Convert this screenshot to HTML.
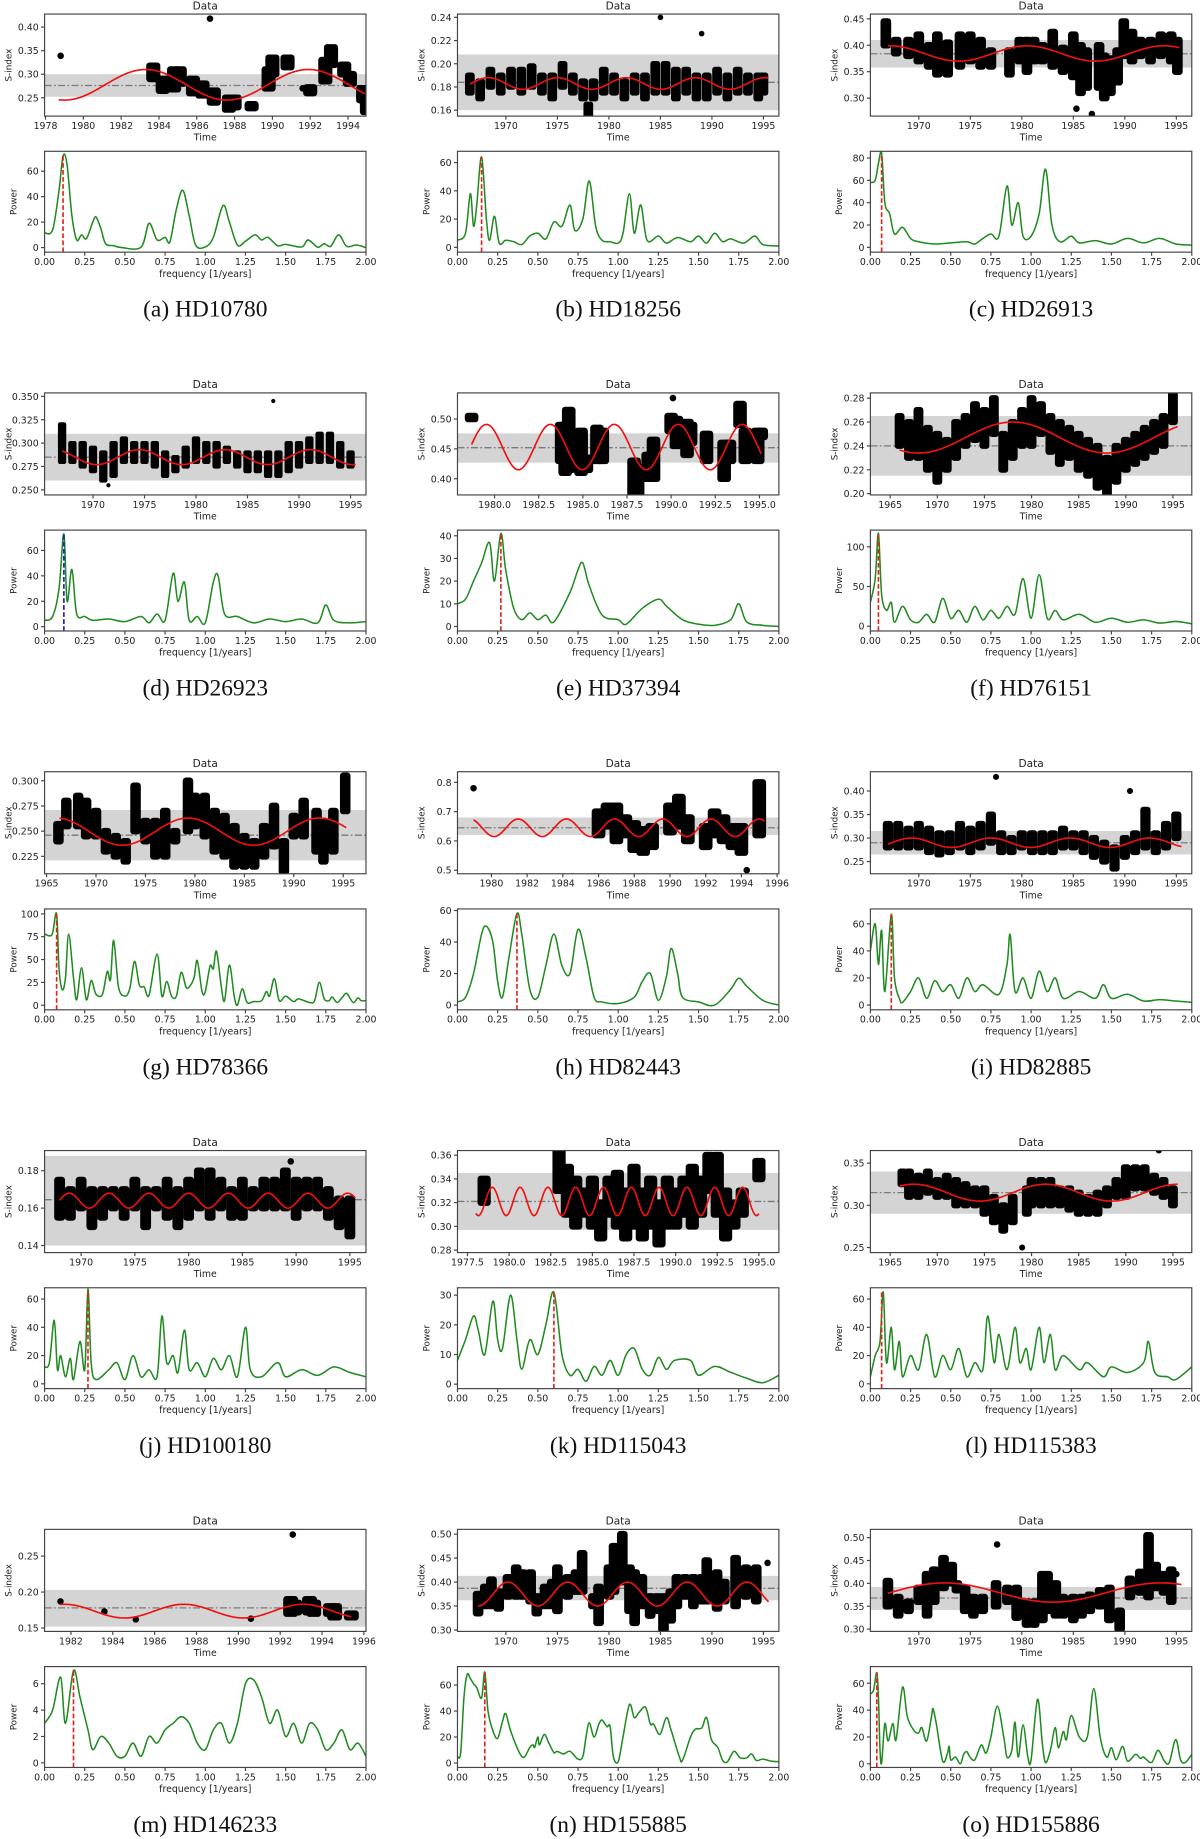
<!DOCTYPE html>
<html><head><meta charset="utf-8"><style>
html,body{margin:0;padding:0;background:#fff}
svg{display:block}
text{font-family:"DejaVu Sans","Liberation Sans",sans-serif;fill:#222}
.cap{font-family:"Liberation Serif",serif;font-size:20px;fill:#111}
</style></head><body>
<svg id="fig" width="1200" height="1839" viewBox="0 0 1023 1568" preserveAspectRatio="none" xmlns="http://www.w3.org/2000/svg"></svg>
<script>
// ---- data per panel ----
const names=["(a) HD10780","(b) HD18256","(c) HD26913","(d) HD26923","(e) HD37394","(f) HD76151","(g) HD78366","(h) HD82443","(i) HD82885","(j) HD100180","(k) HD115043","(l) HD115383","(m) HD146233","(n) HD155885","(o) HD155886"];
const xRanges=[[1977.95,1994.95],[1965.3,1996.5],[1965.3,1996.5],[1965.3,1996.5],[1977.9,1996.1],[1962.9,1997],[1964.8,1997.3],[1978.1,1996.1],[1965.3,1996.5],[1966.6,1996.5],[1976.9,1996.2],[1962.9,1997],[1980.74,1996.1],[1965.3,1996.5],[1965.3,1996.5]];
const yRanges=[[.211,.4277],[.1549,.2428],[.266,.459],[.2446,.3537],[.3729,.5437],[.1989,.2844],[.2077,.309],[.4879,.8364],[.224,.441],[.1362,.1908],[.2779,.3639],[.244,.3649],[.1453,.2872],[.297,.51],[.295,.518]];
const xTicks=[[1978,1980,1982,1984,1986,1988,1990,1992,1994],[1970,1975,1980,1985,1990,1995],[1970,1975,1980,1985,1990,1995],[1970,1975,1980,1985,1990,1995],[1980,1982.5,1985,1987.5,1990,1992.5,1995],[1965,1970,1975,1980,1985,1990,1995],[1965,1970,1975,1980,1985,1990,1995],[1980,1982,1984,1986,1988,1990,1992,1994,1996],[1970,1975,1980,1985,1990,1995],[1970,1975,1980,1985,1990,1995],[1977.5,1980,1982.5,1985,1987.5,1990,1992.5,1995],[1965,1970,1975,1980,1985,1990,1995],[1982,1984,1986,1988,1990,1992,1994,1996],[1970,1975,1980,1985,1990,1995],[1970,1975,1980,1985,1990,1995]];
const xTickDec=[0,0,0,0,1,0,0,0,0,0,1,0,0,0,0];
const yTicks=[[.25,.30,.35,.40],[.16,.18,.20,.22,.24],[.30,.35,.40,.45],[.250,.275,.300,.325,.350],[.40,.45,.50],[.20,.22,.24,.26,.28],[.225,.250,.275,.300],[.5,.6,.7,.8],[.25,.30,.35,.40],[.14,.16,.18],[.28,.30,.32,.34,.36],[.25,.30,.35],[.15,.20,.25],[.30,.35,.40,.45,.50],[.30,.35,.40,.45,.50]];
const yTickDec=[2,2,2,3,2,2,3,1,2,2,2,2,2,2,2];
const means=[.276,.184,.384,.285,.452,.24,.246,.645,.29,.1645,.321,.315,.178,.387,.368];
const bands=[[.252,.300],[.16,.208],[.358,.41],[.26,.31],[.427,.476],[.215,.265],[.221,.271],[.62,.68],[.265,.315],[.14,.188],[.297,.345],[.29,.34],[.152,.203],[.362,.413],[.342,.392]];
// sine fit params: mean, amplitude, period, time of max, start, end
const fits=[[.2775,.0325,8.6,1983.3,1978.7,1994.9],[.183,.005,6.7,1975,1966.5,1995.5],[.3845,.0145,13.3,1980.5,1967,1995.3],[.285,.008,8.3,1974.5,1967,1995.5],[.453,.038,3.62,1990.4,1978.7,1995.1],[.247,.013,20,1978,1966,1995.5],[.2495,.0135,13.3,1979.3,1966.3,1995.3],[.645,.03,2.7,1992.3,1979,1995.3],[.29,.01,7.7,1977,1967,1995.5],[.164,.004,3.7,1980,1968,1995.5],[.321,.012,1.67,1984,1978,1995],[.315,.01,14,1981.5,1966,1995.5],[.1735,.0095,5.7,1987.4,1981.5,1995.4],[.375,.025,5.8,1970.2,1967.3,1995.5],[.38,.021,21,1972.5,1967,1995.5]];
const dotR=[2.8,2.4,2.8,1.8,2.8,2.6,2.8,2.8,2.6,2.8,2.8,2.6,2.8,2.8,2.8];
// clusters: [time, low, high]
const clusters=[
[[1978.8,.339,.339],[1986.7,.418,.418],[1983.7,.29,.318],[1984.2,.265,.29],[1984.8,.268,.31],[1985.1,.28,.31],[1985.8,.26,.29],[1986.3,.255,.28],[1986.9,.24,.265],[1987.7,.225,.25],[1988,.23,.25],[1988.9,.228,.236],[1989.8,.27,.31],[1990,.3,.335],[1990.8,.315,.335],[1991.6,.27,.27],[1992,.26,.272],[1992.8,.285,.33],[1993.1,.32,.357],[1993.8,.3,.32],[1994.1,.28,.3],[1994.8,.245,.27],[1995,.22,.25]],
[[1966.5,.175,.19],[1967.5,.17,.185],[1968.5,.18,.195],[1969.5,.175,.19],[1970.5,.18,.195],[1971.5,.175,.195],[1972.5,.18,.198],[1973.5,.175,.19],[1974.5,.17,.19],[1975.5,.18,.2],[1976.5,.175,.19],[1977.5,.17,.185],[1978,.155,.165],[1978.5,.17,.185],[1979.5,.175,.195],[1980.5,.175,.19],[1981.5,.17,.185],[1982.5,.175,.19],[1983.5,.17,.19],[1984.5,.175,.2],[1985,.24,.24],[1985.5,.175,.2],[1986.5,.17,.195],[1987.5,.175,.195],[1988.5,.17,.19],[1989,.226,.226],[1989.5,.17,.19],[1990.5,.175,.195],[1991.5,.17,.19],[1992.5,.175,.195],[1993.5,.175,.19],[1994.5,.17,.19],[1995,.175,.19]],
[[1966.8,.40,.445],[1967.8,.385,.41],[1969,.38,.41],[1970,.37,.42],[1971,.36,.40],[1971.8,.345,.42],[1972.8,.345,.405],[1974,.36,.42],[1975,.37,.42],[1976,.36,.41],[1977,.36,.39],[1978.8,.345,.39],[1979.8,.37,.41],[1980.5,.35,.41],[1981.2,.37,.41],[1982,.37,.40],[1983,.36,.425],[1984,.35,.395],[1985,.34,.42],[1985.3,.28,.28],[1985.7,.31,.40],[1986.3,.32,.39],[1986.8,.27,.27],[1987.5,.32,.40],[1988,.30,.38],[1988.6,.31,.375],[1989.3,.33,.39],[1989.9,.38,.445],[1990.7,.37,.425],[1991.5,.38,.41],[1992.5,.37,.41],[1993.5,.38,.42],[1994.5,.37,.42],[1995.1,.35,.41]],
[[1967,.28,.32],[1968,.28,.30],[1969,.275,.30],[1970,.27,.295],[1971,.26,.29],[1971.5,.255,.255],[1972,.265,.30],[1973,.28,.305],[1974,.28,.30],[1975,.28,.30],[1976,.275,.30],[1977,.265,.29],[1978,.27,.285],[1979,.275,.295],[1980,.28,.305],[1981,.28,.30],[1982,.275,.30],[1983,.28,.295],[1984,.275,.29],[1985,.27,.29],[1986,.27,.29],[1987,.265,.29],[1987.5,.345,.345],[1988,.265,.29],[1989,.27,.30],[1990,.275,.30],[1991,.28,.305],[1992,.28,.31],[1993,.28,.31],[1994,.275,.30],[1995,.275,.29]],
[[1978.7,.50,.505],[1983.8,.43,.49],[1984,.41,.49],[1984.2,.415,.515],[1984.9,.41,.48],[1985.2,.415,.435],[1985.8,.43,.485],[1986.1,.43,.48],[1987.9,.37,.43],[1988.1,.375,.42],[1988.7,.40,.44],[1989,.40,.465],[1990,.48,.505],[1990.1,.535,.535],[1990.3,.455,.50],[1990.9,.44,.495],[1991.1,.46,.49],[1992,.43,.475],[1993,.40,.46],[1993.3,.43,.46],[1993.9,.49,.525],[1994.2,.43,.48],[1994.9,.43,.48],[1995.1,.47,.48]],
[[1966,.24,.265],[1967,.23,.26],[1968,.23,.27],[1969,.22,.255],[1970,.21,.25],[1971,.22,.245],[1972,.23,.26],[1973,.24,.265],[1974,.245,.275],[1975,.24,.27],[1976,.25,.28],[1977,.22,.25],[1978,.23,.26],[1979,.24,.27],[1980,.24,.28],[1981,.25,.275],[1982,.235,.265],[1983,.225,.26],[1984,.23,.255],[1985,.22,.25],[1986,.215,.245],[1987,.205,.24],[1988,.20,.23],[1989,.21,.24],[1990,.22,.245],[1991,.225,.25],[1992,.23,.255],[1993,.235,.26],[1994,.24,.265],[1995,.26,.285]],
[[1966.2,.24,.257],[1967,.255,.28],[1968.2,.255,.285],[1969,.245,.28],[1970,.245,.27],[1971,.23,.25],[1972,.225,.245],[1973,.22,.24],[1974,.25,.295],[1975,.24,.26],[1976,.225,.26],[1977,.225,.27],[1978,.24,.25],[1979.3,.25,.30],[1980,.255,.285],[1981,.245,.285],[1982,.23,.27],[1983,.225,.265],[1984,.215,.255],[1985,.215,.245],[1986,.215,.24],[1987,.225,.255],[1988,.235,.275],[1989,.21,.24],[1990,.245,.265],[1991,.245,.28],[1992.3,.23,.27],[1993,.22,.26],[1994,.23,.27],[1995.2,.27,.305]],
[[1979,.78,.78],[1986,.62,.70],[1986.5,.65,.72],[1987,.60,.72],[1987.5,.62,.68],[1988,.57,.66],[1988.5,.56,.64],[1989,.58,.65],[1990,.63,.72],[1990.5,.65,.75],[1991,.60,.68],[1992,.58,.65],[1992.5,.62,.70],[1993,.60,.68],[1993.5,.58,.65],[1994,.56,.65],[1994.3,.50,.50],[1995,.62,.80]],
[[1967,.28,.33],[1968,.28,.33],[1969,.28,.32],[1970,.28,.33],[1971,.27,.32],[1972,.265,.31],[1973,.27,.31],[1974,.28,.33],[1975,.27,.32],[1976,.28,.33],[1977,.29,.35],[1977.5,.43,.43],[1978,.27,.31],[1979,.27,.30],[1980,.28,.31],[1981,.27,.31],[1982,.27,.31],[1983,.27,.31],[1984,.28,.32],[1985,.28,.31],[1986,.27,.31],[1987,.26,.30],[1988,.25,.29],[1989,.235,.28],[1990,.26,.30],[1990.5,.40,.40],[1991,.27,.31],[1992,.28,.36],[1993,.27,.31],[1994,.28,.33],[1995,.30,.35]],
[[1968,.155,.175],[1969,.155,.17],[1970,.16,.175],[1971,.15,.17],[1972,.155,.17],[1973,.16,.17],[1974,.155,.17],[1975,.16,.175],[1976,.15,.17],[1977,.16,.17],[1978,.155,.175],[1979,.15,.17],[1980,.155,.175],[1981,.16,.18],[1982,.155,.18],[1983,.16,.175],[1984,.155,.17],[1985,.155,.175],[1986,.16,.17],[1987,.16,.175],[1988,.16,.175],[1989,.16,.18],[1989.5,.185,.185],[1990,.155,.175],[1991,.16,.175],[1992,.16,.175],[1993,.155,.17],[1994,.15,.165],[1995,.145,.165]],
[[1978.5,.32,.34],[1983,.33,.37],[1983.5,.31,.35],[1984,.30,.34],[1984.5,.31,.33],[1985,.30,.34],[1985.5,.29,.32],[1986,.31,.34],[1986.5,.30,.345],[1987,.29,.33],[1987.5,.30,.35],[1988,.29,.33],[1988.5,.30,.34],[1989,.285,.32],[1989.5,.30,.34],[1990,.30,.33],[1990.5,.31,.34],[1991,.30,.35],[1991.5,.31,.34],[1992,.33,.36],[1992.5,.31,.36],[1993,.29,.33],[1993.5,.30,.32],[1994,.31,.33],[1995,.34,.355]],
[[1966,.375,.375],[1966.3,.325,.34],[1967,.31,.34],[1968,.31,.335],[1969,.315,.34],[1970,.31,.33],[1971,.31,.335],[1972,.30,.33],[1973,.30,.325],[1974,.30,.32],[1975,.29,.32],[1976,.28,.31],[1977,.27,.30],[1978,.28,.31],[1979,.25,.25],[1979.5,.29,.32],[1980,.30,.33],[1981,.30,.33],[1982,.30,.33],[1983,.30,.32],[1984,.295,.32],[1985,.29,.315],[1986,.29,.31],[1987,.29,.315],[1988,.30,.32],[1989,.31,.33],[1990,.31,.345],[1991,.32,.345],[1992,.32,.345],[1993,.315,.335],[1993.5,.365,.365],[1994,.31,.33],[1995,.30,.32]],
[[1981.5,.187,.187],[1983.6,.173,.173],[1985.1,.162,.162],[1990.6,.163,.163],[1992.6,.28,.28],[1992.5,.17,.19],[1992.7,.172,.185],[1993.4,.172,.19],[1993.6,.17,.185],[1994.4,.17,.18],[1994.6,.165,.18],[1995.4,.165,.17]],
[[1967.3,.335,.375],[1968,.35,.39],[1968.6,.35,.405],[1969.3,.345,.38],[1970.2,.37,.41],[1971,.37,.43],[1971.6,.37,.42],[1972.4,.36,.42],[1973,.335,.37],[1973.8,.35,.39],[1974.5,.35,.40],[1975,.34,.43],[1976,.37,.41],[1976.8,.38,.42],[1977.4,.38,.46],[1978.5,.35,.37],[1979,.315,.39],[1980,.37,.43],[1980.5,.38,.475],[1981.3,.40,.50],[1982,.34,.43],[1982.5,.315,.42],[1983.2,.35,.41],[1984,.33,.37],[1984.7,.34,.37],[1985.3,.30,.37],[1986,.32,.38],[1986.6,.35,.41],[1987.4,.37,.41],[1988.2,.35,.41],[1989,.36,.41],[1989.5,.36,.445],[1990.5,.345,.42],[1991.2,.36,.40],[1992.3,.35,.45],[1993.3,.37,.43],[1994.3,.36,.43],[1995.4,.44,.44]],
[[1967,.35,.405],[1968,.33,.37],[1969,.34,.36],[1970,.36,.39],[1970.8,.33,.42],[1971.5,.36,.43],[1972.4,.39,.455],[1973.2,.40,.44],[1973.7,.385,.40],[1974.5,.34,.39],[1975.3,.33,.37],[1976.2,.34,.37],[1977.5,.35,.40],[1977.6,.485,.485],[1978.6,.36,.39],[1979.5,.325,.39],[1980.5,.31,.36],[1981.2,.31,.36],[1982,.32,.42],[1982.5,.34,.42],[1983.3,.33,.40],[1984,.33,.37],[1985,.32,.37],[1985.8,.33,.37],[1986.6,.34,.375],[1987.6,.35,.385],[1988.5,.32,.39],[1989.5,.30,.34],[1990.5,.37,.41],[1991.5,.38,.425],[1992.3,.37,.505],[1993,.39,.44],[1993.8,.38,.42],[1994.5,.36,.43],[1995,.42,.42]]
];
// periodogram
const pYRanges=[[-3.6,75.6],[-3.4,68],[-4.3,86],[-3.4,76],[-2,42.5],[-6,121],[-5,105.4],[-3,61],[-3.5,71],[-3.4,68],[-1.5,32.5],[-3.4,68],[-.35,7.3],[-3.4,74.2],[-2.7,72.4]];
const pYTicks=[[0,20,40,60],[0,20,40,60],[0,20,40,60,80],[0,20,40,60],[0,10,20,30,40],[0,50,100],[0,25,50,75,100],[0,20,40,60],[0,20,40,60],[0,20,40,60],[0,10,20,30],[0,20,40,60],[0,2,4,6],[0,20,40,60],[0,20,40,60]];
const peakFreq=[.115,.15,.07,.12,.27,.05,.075,.37,.13,.27,.6,.07,.18,.17,.04];
const peakColor=["#e8201a","#e8201a","#e8201a","#1a1acc","#e8201a","#e8201a","#e8201a","#e8201a","#e8201a","#e8201a","#e8201a","#e8201a","#e8201a","#e8201a","#e8201a"];
const freqTicks=[0,0.25,0.5,0.75,1,1.25,1.5,1.75,2];
const power=[
[[0,11.5],[.05,14],[.09,45],[.115,72],[.14,65],[.17,25],[.2,6],[.23,10],[.26,7],[.3,20],[.32,24],[.35,15],[.38,3],[.43,1.5],[.48,0],[.6,.3],[.65,19],[.7,6],[.75,8],[.78,4.5],[.82,30],[.86,45],[.9,25],[.94,2],[1,.5],[1.05,8],[1.11,33],[1.15,20],[1.2,2],[1.25,5],[1.31,10],[1.35,6],[1.39,8],[1.45,1.5],[1.5,2.5],[1.6,.5],[1.64,6],[1.7,.3],[1.74,3],[1.78,1],[1.83,10],[1.88,1],[1.94,2],[2,0]],
[[0,5],[.05,10],[.08,38],[.1,15],[.12,30],[.15,64],[.18,20],[.2,5],[.23,22],[.26,3],[.3,5],[.35,4],[.4,2],[.45,8],[.5,10],[.55,6],[.6,18],[.65,15],[.7,30],[.73,12],[.78,20],[.82,47],[.86,15],[.9,5],[.95,4],[1,3],[1.03,10],[1.07,38],[1.1,10],[1.14,30],[1.18,5],[1.25,8],[1.3,3],[1.37,7],[1.45,4],[1.5,8],[1.55,3],[1.6,10],[1.65,4],[1.7,6],[1.78,3],[1.85,8],[1.9,2],[2,1]],
[[0,58],[.03,60],[.05,75],[.07,84],[.09,40],[.12,30],[.15,12],[.2,18],[.25,8],[.3,5],[.4,3],[.5,4],[.6,5],[.65,3],[.7,8],[.75,12],[.8,10],[.85,55],[.88,20],[.92,40],[.95,10],[1,10],[1.05,30],[1.09,70],[1.13,20],[1.18,5],[1.25,10],[1.3,4],[1.4,6],[1.5,3],[1.6,8],[1.7,4],[1.8,8],[1.9,3],[2,2]],
[[0,5],[.05,8],[.09,30],[.12,73],[.14,20],[.17,45],[.2,10],[.25,8],[.3,5],[.4,6],[.5,4],[.6,8],[.65,3],[.7,10],[.75,5],[.8,42],[.83,20],[.87,35],[.9,5],[.95,8],[1,3],[1.05,35],[1.08,40],[1.12,10],[1.2,8],[1.3,3],[1.4,6],[1.5,4],[1.6,6],[1.7,3],[1.75,17],[1.8,5],[1.9,3],[2,4]],
[[0,10],[.05,12],[.1,20],[.15,28],[.2,37],[.23,20],[.27,41],[.3,25],[.35,8],[.4,3],[.45,6],[.5,3],[.55,5],[.6,2],[.7,15],[.75,25],[.78,28],[.82,18],[.9,5],[1,3],[1.05,1],[1.15,8],[1.25,12],[1.3,9],[1.4,3],[1.5,1],[1.6,.5],[1.7,3],[1.75,10],[1.8,2],[1.9,.5],[2,0]],
[[0,30],[.03,60],[.05,117],[.07,40],[.1,20],[.13,30],[.15,5],[.2,25],[.25,8],[.3,5],[.35,15],[.4,5],[.45,35],[.5,10],[.55,20],[.6,5],[.65,25],[.7,8],[.75,20],[.8,10],[.85,25],[.9,15],[.95,60],[1,10],[1.05,65],[1.1,10],[1.15,20],[1.2,8],[1.3,15],[1.4,5],[1.5,10],[1.6,5],[1.7,8],[1.8,4],[1.9,6],[2,3]],
[[0,78],[.03,76],[.05,79],[.075,100],[.09,40],[.11,17],[.13,30],[.15,78],[.18,30],[.2,6],[.23,41],[.26,6],[.29,27],[.32,12],[.36,12],[.39,37],[.41,28],[.43,71],[.46,20],[.5,10],[.53,18],[.56,48],[.59,22],[.62,20],[.65,11],[.7,56],[.73,10],[.76,26],[.79,10],[.82,10],[.85,36],[.88,20],[.9,20],[.93,30],[.95,49],[.98,15],[1,15],[1.03,43],[1.05,40],[1.07,59],[1.1,20],[1.12,5],[1.15,44],[1.18,10],[1.2,0],[1.23,18],[1.26,3],[1.3,4],[1.35,5],[1.38,15],[1.4,10],[1.43,29],[1.46,5],[1.5,10],[1.55,4],[1.58,7],[1.65,3],[1.68,5],[1.71,25],[1.74,7],[1.77,5],[1.79,9],[1.82,3],[1.85,8],[1.88,13],[1.92,3],[1.95,8],[1.97,5],[2,5]],
[[0,2],[.05,5],[.1,20],[.15,45],[.18,50],[.22,40],[.25,15],[.28,5],[.32,30],[.37,58],[.4,45],[.45,10],[.5,5],[.55,25],[.6,45],[.65,25],[.7,20],[.75,48],[.8,30],[.85,5],[.9,2],[1,1],[1.1,5],[1.15,15],[1.2,20],[1.25,3],[1.3,18],[1.33,36],[1.37,20],[1.4,5],[1.5,2],[1.6,0],[1.7,10],[1.75,17],[1.8,12],[1.9,3],[2,0]],
[[0,40],[.03,60],[.05,30],[.07,55],[.09,10],[.13,67],[.15,20],[.18,5],[.2,2],[.25,10],[.3,20],[.35,5],[.4,18],[.45,10],[.5,15],[.55,5],[.6,20],[.65,10],[.7,15],[.8,8],[.85,30],[.87,52],[.9,10],[.95,20],[1,5],[1.05,25],[1.1,10],[1.15,20],[1.2,5],[1.3,10],[1.4,5],[1.45,15],[1.5,5],[1.6,8],[1.7,3],[1.8,4],[1.9,3],[2,2]],
[[0,12],[.03,15],[.06,45],[.08,10],[.1,20],[.13,5],[.16,18],[.18,3],[.22,30],[.25,10],[.27,67],[.29,15],[.32,3],[.4,10],[.45,15],[.5,3],[.55,20],[.6,5],[.65,10],[.7,5],[.73,48],[.76,15],[.8,20],[.83,8],[.87,38],[.9,10],[.95,15],[1,5],[1.05,18],[1.1,10],[1.15,20],[1.2,5],[1.25,40],[1.28,10],[1.35,5],[1.45,15],[1.5,5],[1.6,10],[1.7,6],[1.8,12],[1.9,8],[2,5]],
[[0,8],[.05,15],[.1,23],[.13,18],[.17,10],[.22,28],[.25,15],[.28,12],[.33,30],[.37,15],[.4,5],[.45,15],[.5,10],[.55,20],[.6,31],[.65,10],[.7,3],[.75,5],[.8,1],[.85,6],[.9,3],[.95,8],[1,3],[1.05,10],[1.1,12],[1.15,5],[1.2,3],[1.25,9],[1.3,5],[1.35,8],[1.45,8],[1.5,3],[1.6,6],[1.7,4],[1.8,2],[1.9,.5],[2,3]],
[[0,5],[.03,20],[.06,30],[.08,65],[.1,15],[.13,40],[.15,10],[.18,30],[.2,5],[.25,20],[.3,10],[.35,35],[.4,5],[.45,20],[.5,10],[.55,25],[.6,5],[.65,15],[.7,10],[.73,48],[.77,15],[.8,35],[.85,10],[.9,40],[.93,15],[.97,25],[1,10],[1.05,40],[1.08,15],[1.12,35],[1.15,10],[1.2,20],[1.3,10],[1.35,15],[1.45,5],[1.5,12],[1.6,8],[1.7,15],[1.73,30],[1.77,8],[1.85,5],[1.9,3],[2,12]],
[[0,3],[.05,4],[.1,6.5],[.13,3],[.18,7],[.22,5],[.27,2.5],[.3,1],[.35,2],[.4,1.5],[.45,.5],[.5,.5],[.55,1.5],[.6,.5],[.65,2],[.7,1.5],[.75,2.5],[.8,3],[.85,3.5],[.9,3],[.95,1.5],[1,1],[1.05,2.5],[1.1,3],[1.15,1.5],[1.2,3],[1.25,6],[1.3,6.3],[1.35,5],[1.4,3],[1.45,4],[1.5,2],[1.55,3],[1.6,1.5],[1.65,3],[1.7,2.5],[1.75,1],[1.8,1.5],[1.85,2.5],[1.9,1],[1.95,1.5],[2,.5]],
[[0,5],[.02,8],[.04,50],[.06,68],[.08,65],[.1,61],[.12,58],[.15,50],[.17,70],[.19,40],[.22,25],[.25,19],[.28,32],[.3,38],[.33,25],[.37,12],[.4,5],[.42,5],[.45,12],[.47,14],[.48,12],[.5,20],[.51,14],[.54,22],[.57,15],[.6,8],[.62,9],[.66,7],[.7,9],[.75,3],[.78,5],[.8,20],[.82,31],[.85,20],[.88,30],[.9,33],[.93,28],[.95,28],[.97,5],[1,1],[1.03,20],[1.07,45],[1.1,35],[1.13,39],[1.17,43],[1.2,30],[1.22,30],[1.26,22],[1.3,35],[1.33,25],[1.38,5],[1.4,2],[1.45,20],[1.48,26],[1.52,27],[1.55,35],[1.58,18],[1.62,12],[1.65,2],[1.68,1],[1.72,9],[1.76,4],[1.8,4],[1.83,7],[1.86,2],[1.9,3],[1.95,1.5],[2,1]],
[[0,52],[.02,55],[.04,68],[.05,50],[.06,10],[.07,1],[.09,30],[.11,17],[.14,30],[.16,18],[.2,57],[.23,35],[.27,25],[.3,23],[.32,27],[.35,17],[.38,35],[.39,41],[.41,30],[.45,2],[.48,8],[.49,13],[.5,3],[.53,5],[.56,0],[.58,7],[.6,9],[.62,5],[.65,3],[.69,14],[.72,8],[.75,20],[.79,43],[.83,20],[.85,5],[.88,10],[.9,31],[.92,5],[.95,29],[.98,5],[1,3],[1.04,48],[1.07,15],[1.09,1],[1.12,10],[1.15,27],[1.17,12],[1.2,24],[1.22,18],[1.25,36],[1.3,20],[1.35,20],[1.39,56],[1.43,20],[1.47,5],[1.5,12],[1.53,3],[1.57,13],[1.6,2],[1.65,7],[1.68,4],[1.7,5],[1.75,1],[1.79,10],[1.83,2],[1.86,1],[1.9,18],[1.93,3],[1.96,1],[2,7]]
];
// ---- drawing ----
const NS="http://www.w3.org/2000/svg";
const svg=document.getElementById('fig');
function mk(tag,attrs,parent,txt){const e=document.createElementNS(NS,tag);for(const k in attrs)e.setAttribute(k,attrs[k]);if(txt!==undefined)e.textContent=txt;parent.appendChild(e);return e;}
function lin(d0,d1,r0,r1){return v=>r0+(v-d0)/(d1-d0)*(r1-r0);}
function smooth(pts){let d="M"+pts[0][0].toFixed(2)+","+pts[0][1].toFixed(2);for(let i=0;i<pts.length-1;i++){const p0=pts[Math.max(0,i-1)],p1=pts[i],p2=pts[i+1],p3=pts[Math.min(pts.length-1,i+2)];const c1=[p1[0]+(p2[0]-p0[0])/6,p1[1]+(p2[1]-p0[1])/6],c2=[p2[0]-(p3[0]-p1[0])/6,p2[1]-(p3[1]-p1[1])/6];d+="C"+c1[0].toFixed(2)+","+c1[1].toFixed(2)+" "+c2[0].toFixed(2)+","+c2[1].toFixed(2)+" "+p2[0].toFixed(2)+","+p2[1].toFixed(2);}return d;}
const colX=[0,352,704], rowY=323;
for(let i=0;i<15;i++){
  const ox=colX[i%3], oy=Math.floor(i/3)*rowY;
  const g=mk('g',{transform:`translate(${ox},${oy})`},svg);
  
  
  const L=38,R=312,T=12,B=99,PT=129,PB=215;
  const x=lin(xRanges[i][0],xRanges[i][1],L,R), y=lin(yRanges[i][0],yRanges[i][1],B,T);
  const dg=mk('g',{},g);
  const cid='c'+i;const cp=mk('clipPath',{id:cid},dg);mk('rect',{x:L,y:T,width:R-L,height:B-T},cp);
  const band=mk('rect',{x:L,y:y(bands[i][1]),width:R-L,height:y(bands[i][0])-y(bands[i][1]),fill:'#d4d4d4'},dg);
  
  const ml=mk('line',{x1:L,x2:R,y1:y(means[i]),y2:y(means[i]),stroke:'#7a7a7a','stroke-width':1.1,'stroke-dasharray':'6,2,1.5,2'},dg);
  
  const sg=mk('g',{'clip-path':`url(#${cid})`},dg);
  const r=dotR[i];
  clusters[i].forEach(c=>{const single=c[1]===c[2];const sp=single?0:Math.abs(x(c[0]+0.4)-x(c[0]));const xc=x(c[0]);const y1=y(c[2]),y2=y(c[1]);
    const el=mk('rect',{x:xc-r-sp/2,y:y1-r,width:2*r+sp,height:(y2-y1)+2*r,rx:r,ry:r,fill:'#000'},sg);
    
    });
  const f=fits[i];let fp=[];for(let k=0;k<=200;k++){const t=f[4]+(f[5]-f[4])*k/200;fp.push([x(t),y(f[0]+f[1]*Math.cos(2*Math.PI*(t-f[3])/f[2]))]);}
  const fl=mk('path',{d:'M'+fp.map(p=>p[0].toFixed(2)+','+p[1].toFixed(2)).join('L'),fill:'none',stroke:'#f01010','stroke-width':1.4},dg);
  
  mk('rect',{x:L,y:T,width:R-L,height:B-T,fill:'none',stroke:'#444','stroke-width':1},dg);
  xTicks[i].forEach(v=>{const xx=x(v);mk('line',{x1:xx,x2:xx,y1:B,y2:B+3,stroke:'#444'},dg);const t=mk('text',{x:xx,y:B+11,'font-size':8,'text-anchor':'middle'},dg,v.toFixed(xTickDec[i]));});
  yTicks[i].forEach(v=>{const yy=y(v);mk('line',{x1:L-3,x2:L,y1:yy,y2:yy,stroke:'#444'},dg);const t=mk('text',{x:L-5,y:yy+3,'font-size':8,'text-anchor':'end'},dg,v.toFixed(yTickDec[i]));});
  let t=mk('text',{x:(L+R)/2,y:8,'font-size':9,'text-anchor':'middle'},dg,'Data');
  t=mk('text',{x:(L+R)/2,y:B+21,'font-size':8,'text-anchor':'middle'},dg,'Time');
  t=mk('text',{x:0,y:0,'font-size':7.5,'text-anchor':'middle',transform:`translate(10,${(T+B)/2}) rotate(-90)`},dg,'S-index');
  const pg=mk('g',{},g);
  const px=lin(0,2,L,R), py=lin(pYRanges[i][0],pYRanges[i][1],PB,PT);
  const pid='p'+i;const pc=mk('clipPath',{id:pid},pg);mk('rect',{x:L,y:PT,width:R-L,height:PB-PT},pc);
  const pl=mk('path',{d:smooth(power[i].map(p=>[px(p[0]),py(p[1])])),fill:'none',stroke:'#1f8a1f','stroke-width':1.3,'clip-path':`url(#${pid})`},pg);
  
  let pk=0;power[i].forEach(p=>{if(Math.abs(p[0]-peakFreq[i])<0.015&&p[1]>pk)pk=p[1];});
  const rl=mk('line',{x1:px(peakFreq[i]),x2:px(peakFreq[i]),y1:PB,y2:Math.max(PT,py(pk)),stroke:peakColor[i],'stroke-width':1.4,'stroke-dasharray':'4,2'},pg);
  
  mk('rect',{x:L,y:PT,width:R-L,height:PB-PT,fill:'none',stroke:'#444','stroke-width':1},pg);
  freqTicks.forEach(v=>{const xx=px(v);mk('line',{x1:xx,x2:xx,y1:PB,y2:PB+3,stroke:'#444'},pg);const tt=mk('text',{x:xx,y:PB+11,'font-size':8,'text-anchor':'middle'},pg,v.toFixed(2));});
  pYTicks[i].forEach(v=>{const yy=py(v);mk('line',{x1:L-3,x2:L,y1:yy,y2:yy,stroke:'#444'},pg);const tt=mk('text',{x:L-5,y:yy+3,'font-size':8,'text-anchor':'end'},pg,String(v));});
  t=mk('text',{x:(L+R)/2,y:PB+21,'font-size':8,'text-anchor':'middle'},pg,'frequency [1/years]');
  t=mk('text',{x:0,y:0,'font-size':7.5,'text-anchor':'middle',transform:`translate(14,${(PT+PB)/2}) rotate(-90)`},pg,'Power');
  t=mk('text',{x:(L+R)/2,y:270,'text-anchor':'middle','class':'cap'},g,names[i]);
}
</script>
</body></html>
